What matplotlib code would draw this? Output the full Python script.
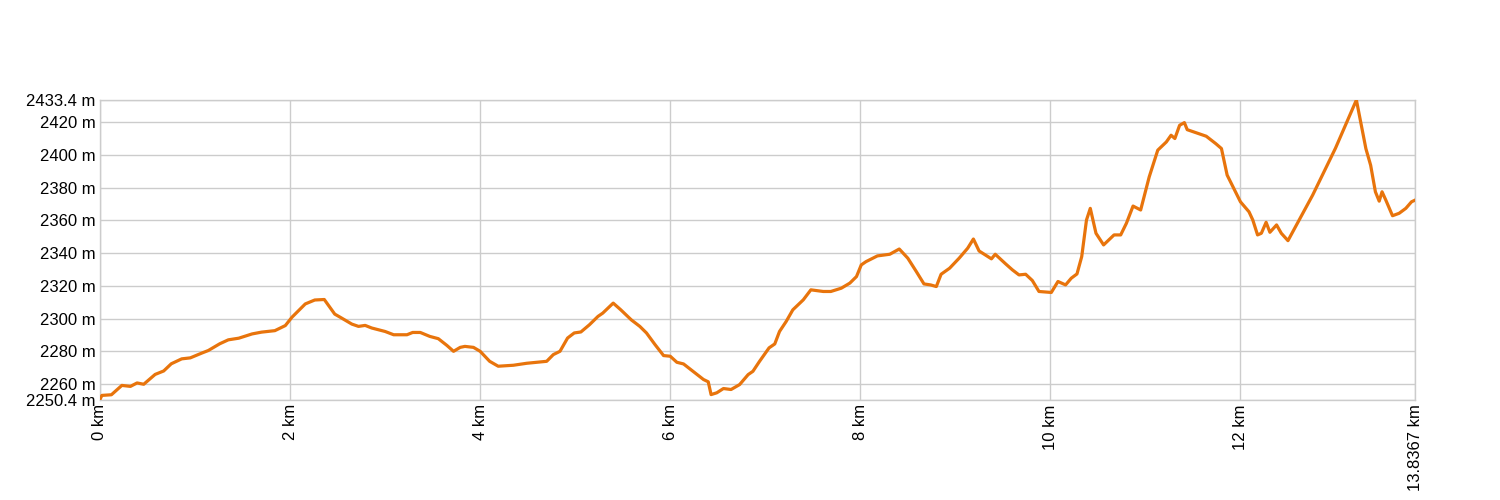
import matplotlib
matplotlib.use("Agg")
import matplotlib.pyplot as plt

plt.rcParams["font.family"] = ["Liberation Sans", "DejaVu Sans"]

# elevation profile (distance km, elevation m)
dist_km = [
    0.00, 0.02, 0.12, 0.23, 0.32, 0.39, 0.46, 0.58, 0.67, 0.75, 0.86, 0.95,
    1.07, 1.14, 1.26, 1.35, 1.46, 1.60, 1.70, 1.84, 1.95, 2.02, 2.16, 2.26,
    2.36, 2.47, 2.53, 2.65, 2.72, 2.79, 2.86, 3.00, 3.09, 3.23, 3.29, 3.37,
    3.47, 3.56, 3.65, 3.72, 3.79, 3.84, 3.93, 4.00, 4.10, 4.19, 4.35, 4.49,
    4.70, 4.77, 4.84, 4.92, 4.99, 5.06, 5.15, 5.24, 5.29, 5.40, 5.48, 5.59,
    5.68, 5.75, 5.84, 5.93, 6.00, 6.07, 6.14, 6.24, 6.35, 6.40, 6.43, 6.49,
    6.56, 6.64, 6.73, 6.82, 6.87, 6.94, 7.04, 7.10, 7.15, 7.22, 7.29, 7.40,
    7.48, 7.61, 7.69, 7.80, 7.89, 7.96, 8.01, 8.06, 8.18, 8.31, 8.41, 8.50,
    8.59, 8.67, 8.74, 8.80, 8.85, 8.94, 9.04, 9.13, 9.19, 9.25, 9.38, 9.42,
    9.53, 9.60, 9.67, 9.74, 9.81, 9.88, 10.01, 10.08, 10.16, 10.22, 10.28,
    10.33, 10.38, 10.42, 10.48, 10.56, 10.67, 10.74, 10.80, 10.87, 10.95,
    11.04, 11.13, 11.22, 11.27, 11.31, 11.36, 11.41, 11.44, 11.53, 11.64,
    11.74, 11.80, 11.86, 11.93, 12.00, 12.09, 12.13, 12.18, 12.22, 12.27,
    12.31, 12.38, 12.43, 12.50, 12.76, 13.00, 13.22, 13.32, 13.37, 13.42,
    13.46, 13.49, 13.53, 13.60, 13.67, 13.74, 13.80, 13.8367,
]
elev_m = [
    2250.8, 2253.2, 2253.6, 2259.3, 2258.7, 2260.8, 2260.0, 2266.0, 2268.1, 2272.5, 2275.5, 2276.1,
    2279.0, 2280.6, 2284.7, 2287.1, 2288.1, 2290.7, 2291.8, 2292.7, 2295.8, 2300.9, 2309.0, 2311.4,
    2311.7, 2302.8, 2300.8, 2296.7, 2295.3, 2295.9, 2294.3, 2292.2, 2290.2, 2290.2, 2291.6, 2291.6,
    2289.2, 2287.8, 2283.7, 2280.1, 2282.5, 2283.1, 2282.5, 2280.1, 2274.0, 2271.0, 2271.6, 2272.8,
    2274.0, 2278.1, 2280.1, 2288.2, 2291.3, 2291.9, 2296.3, 2301.4, 2303.4, 2309.5, 2305.4, 2299.3,
    2295.3, 2291.3, 2284.2, 2277.5, 2277.1, 2273.4, 2272.4, 2267.9, 2262.9, 2261.5, 2253.7, 2254.8,
    2257.4, 2256.8, 2259.8, 2265.9, 2267.9, 2274.0, 2282.2, 2284.6, 2292.2, 2298.3, 2305.4, 2311.5,
    2317.6, 2316.6, 2316.6, 2318.6, 2321.7, 2325.7, 2332.8, 2334.8, 2338.3, 2339.3, 2342.5, 2336.9,
    2328.7, 2321.2, 2320.6, 2319.6, 2327.1, 2330.8, 2336.9, 2343.0, 2348.6, 2341.3, 2336.5, 2339.3,
    2333.4, 2329.8, 2326.7, 2327.1, 2323.3, 2316.6, 2316.0, 2322.7, 2320.6, 2324.7, 2327.3,
    2337.9, 2360.2, 2367.3, 2352.1, 2345.0, 2351.1, 2351.1, 2358.2, 2368.7, 2366.3,
    2386.5, 2402.8, 2407.8, 2411.9, 2409.9, 2418.0, 2419.6, 2415.3, 2413.5, 2411.3,
    2406.8, 2403.8, 2387.6, 2379.5, 2371.3, 2365.2, 2360.2, 2351.1, 2352.1, 2358.8,
    2352.7, 2357.2, 2352.1, 2347.6, 2375.4, 2404.0, 2433.4, 2403.7, 2393.6, 2377.4,
    2371.7, 2377.4, 2372.3, 2362.8, 2364.3, 2367.3, 2371.3, 2372.3,
]

y_ticks = [2250.4, 2260, 2280, 2300, 2320, 2340, 2360, 2380, 2400, 2420, 2433.4]
y_labels = ["2250.4 m", "2260 m", "2280 m", "2300 m", "2320 m", "2340 m",
            "2360 m", "2380 m", "2400 m", "2420 m", "2433.4 m"]
x_ticks = [0, 2, 4, 6, 8, 10, 12, 13.8367]
x_labels = ["0 km", "2 km", "4 km", "6 km", "8 km", "10 km", "12 km", "13.8367 km"]

fig = plt.figure(figsize=(15, 5), dpi=100)
ax = fig.add_axes([100 / 1500, 0.2, 1315 / 1500, 0.6])

ax.plot(dist_km, elev_m, color="#e8740c", lw=2.3, solid_joinstyle="round", zorder=3)

ax.set_xlim(0, 13.8367)
ax.set_ylim(2250.4, 2433.4)
ax.set_yticks(y_ticks)
ax.set_yticklabels(y_labels, fontsize=12)
ax.set_xticks(x_ticks)
ax.set_xticklabels(x_labels, fontsize=12, rotation=90)
ax.tick_params(length=0, pad=3, colors="black")
ax.grid(True, color="#cccccc", lw=1)
for s in ax.spines.values():
    s.set_color("#cccccc")
    s.set_linewidth(1)

fig.savefig("out.png", dpi=100)
